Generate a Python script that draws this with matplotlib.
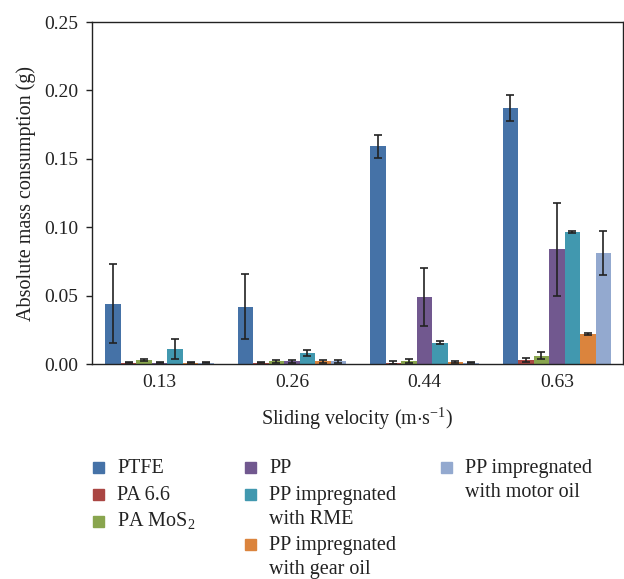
import numpy as np
import matplotlib
matplotlib.use('Agg')
import matplotlib.pyplot as plt
from matplotlib.patches import Rectangle

plt.rcParams['font.family'] = ['Liberation Serif', 'DejaVu Serif']
plt.rcParams['mathtext.fontset'] = 'custom'
plt.rcParams['mathtext.rm'] = 'Liberation Serif'

# Sliding velocities (m/s)
velocities = ['0.13', '0.26', '0.44', '0.63']

materials = ['PTFE', 'PA 6.6', 'PA MoS$_2$', 'PP',
             'PP impregnated\nwith RME', 'PP impregnated\nwith gear oil',
             'PP impregnated\nwith motor oil']
colors = ['#4572A7', '#AA4643', '#89A54E', '#71588F',
          '#4198AF', '#DB843D', '#93A9CF']

# Mean mass consumption (g), one list per material over the velocities
ptfe = [0.044, 0.042, 0.159, 0.187]
pa66 = [0.001, 0.001, 0.001, 0.003]
pa_mos2 = [0.003, 0.002, 0.002, 0.006]
pp = [0.001, 0.002, 0.049, 0.084]
pp_rme = [0.011, 0.008, 0.0155, 0.0965]
pp_gear = [0.001, 0.002, 0.0015, 0.022]
pp_motor = [0.001, 0.002, 0.001, 0.081]

# Standard deviations (g)
ptfe_err = [0.029, 0.024, 0.0085, 0.0095]
pa66_err = [0.0005, 0.0005, 0.001, 0.0015]
pa_mos2_err = [0.001, 0.001, 0.0015, 0.0025]
pp_err = [0.0005, 0.001, 0.021, 0.034]
pp_rme_err = [0.0075, 0.002, 0.001, 0.001]
pp_gear_err = [0.0005, 0.001, 0.0005, 0.001]
pp_motor_err = [0.0005, 0.001, 0.0005, 0.016]

means = [ptfe, pa66, pa_mos2, pp, pp_rme, pp_gear, pp_motor]
errs = [ptfe_err, pa66_err, pa_mos2_err, pp_err, pp_rme_err, pp_gear_err, pp_motor_err]

fig = plt.figure(figsize=(6.24, 5.79), dpi=100)
ax = fig.add_axes([0.1474, 0.3713, 0.851, 0.5907])

x = np.arange(len(velocities))
width = 0.117
for i, (m, e, c) in enumerate(zip(means, errs, colors)):
    pos = x + (i - 3) * width
    ax.bar(pos, m, width, color=c, zorder=2)
    ax.errorbar(pos, m, yerr=e, fmt='none', ecolor='#222222',
                elinewidth=1.2, capsize=3, capthick=1.2, zorder=3)

ax.set_xlim(-0.51, 3.50)
ax.set_ylim(0, 0.25)
ax.set_yticks(np.arange(0, 0.26, 0.05))
ax.set_yticklabels([f'{v:.2f}' for v in np.arange(0, 0.26, 0.05)])
ax.set_xticks(x)
ax.set_xticklabels(velocities)
ax.tick_params(axis='x', length=0, pad=7, labelsize=14, colors='#222222')
ax.tick_params(axis='y', direction='out', length=4, width=1, pad=6, labelsize=14,
               colors='#222222')
for s in ax.spines.values():
    s.set_linewidth(1.0)
    s.set_color('#222222')

ax.set_ylabel('Absolute mass consumption (g)', fontsize=14.5, color='#222222', labelpad=6)
ax.set_xlabel('Sliding velocity (m$\\cdot$s$^{-1}$)', fontsize=14.5, color='#222222',
              labelpad=10)

# Legend drawn as three columns of swatches and labels
col_x = [93, 245, 441]
entries = [(0, 0, 467), (0, 1, 494), (0, 2, 521),
           (1, 3, 467), (1, 4, 494), (1, 5, 544),
           (2, 6, 467)]
W, H = 624, 579
line_gap = 24
for col, idx, yc in entries:
    fig.patches.append(Rectangle((col_x[col] / W, 1 - (yc + 5.5) / H), 11 / W, 11 / H,
                                 transform=fig.transFigure, color=colors[idx]))
    for k, line in enumerate(materials[idx].split('\n')):
        fig.text((col_x[col] + 24) / W, 1 - (yc + 6 + k * line_gap) / H, line,
                 ha='left', va='baseline', fontsize=14.5, color='#222222')

fig.savefig('out.png', dpi=100)
